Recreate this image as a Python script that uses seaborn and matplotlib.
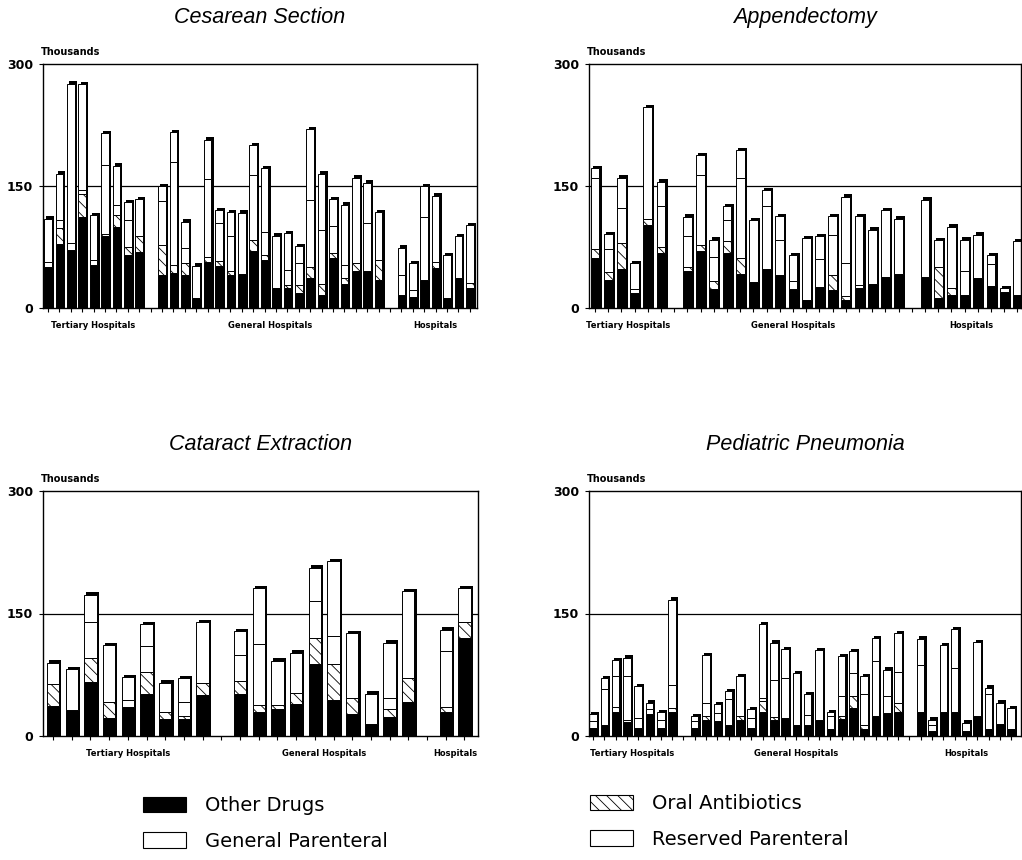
import numpy as np
import pandas as pd
import matplotlib
matplotlib.use('Agg')
import matplotlib.pyplot as plt
import matplotlib.transforms as mtransforms
from matplotlib.patches import Patch
import seaborn as sns

# Datos (miles), grupos: Tertiary / General / Hospitals
# ==============================================================================
group_names = ['Tertiary Hospitals', 'General Hospitals', 'Hospitals']
series_names = ['Other Drugs', 'Oral Antibiotics', 'General Parenteral', 'Reserved Parenteral']

ces_sizes = [9, 20, 7]
ces_other = [51, 79, 71, 112, 53, 89, 100, 65, 69,
             41, 43, 41, 12, 57, 52, 40, 42, 70, 59, 25, 24, 18, 37, 16, 62, 29, 45, 45, 35,
             16, 14, 35, 49, 12, 37, 25]
ces_oral = [0, 19, 0, 28, 0, 2, 14, 10, 20,
            37, 10, 14, 0, 6, 6, 5, 0, 14, 6, 0, 4, 10, 14, 13, 6, 8, 10, 0, 24,
            0, 0, 0, 8, 0, 0, 6]
ces_general = [6, 10, 9, 5, 6, 85, 13, 33, 0,
               53, 127, 19, 0, 95, 46, 43, 0, 79, 29, 0, 19, 27, 82, 67, 33, 16, 0, 59, 0,
               25, 8, 77, 0, 0, 0, 0]
ces_reserved = [53, 57, 196, 130, 55, 39, 48, 22, 45,
                19, 36, 32, 40, 49, 16, 30, 75, 37, 78, 64, 45, 21, 87, 69, 33, 74, 105, 50, 59,
                33, 33, 38, 81, 53, 51, 71]

app_sizes = [6, 17, 8]
app_other = [61, 34, 48, 18, 102, 68,
             46, 70, 23, 68, 42, 32, 48, 40, 23, 10, 26, 22, 10, 25, 30, 38, 42,
             38, 12, 16, 16, 37, 27, 20, 16]
app_oral = [12, 10, 32, 0, 8, 7,
            4, 8, 10, 14, 20, 0, 0, 0, 0, 0, 0, 18, 5, 3, 0, 0, 0,
            0, 38, 8, 0, 0, 0, 0, 0]
app_general = [87, 28, 43, 5, 0, 50,
               38, 86, 30, 26, 98, 0, 77, 44, 10, 0, 34, 50, 40, 0, 0, 0, 0,
               0, 0, 0, 29, 0, 27, 0, 0]
app_reserved = [12, 19, 37, 32, 137, 30,
                24, 24, 21, 17, 34, 76, 20, 29, 32, 76, 28, 23, 82, 85, 66, 82, 68,
                95, 33, 76, 39, 53, 11, 4, 66]

cat_sizes = [9, 10, 2]
cat_other = [37, 32, 66, 22, 36, 51, 21, 21, 50,
             51, 30, 33, 39, 88, 44, 27, 15, 23, 42,
             30, 120]
cat_oral = [27, 0, 30, 20, 0, 27, 9, 4, 15,
            16, 8, 5, 14, 32, 44, 19, 0, 10, 29,
            5, 19]
cat_general = [0, 0, 43, 0, 8, 32, 0, 17, 0,
               32, 75, 0, 0, 45, 34, 0, 0, 13, 0,
               69, 0]
cat_reserved = [26, 50, 34, 69, 28, 27, 35, 29, 74,
                29, 68, 54, 49, 41, 92, 80, 37, 68, 106,
                26, 42]

ped_sizes = [8, 19, 9]
ped_other = [10, 13, 29, 17, 10, 27, 10, 30,
             10, 20, 18, 14, 20, 10, 29, 20, 22, 14, 14, 20, 9, 21, 34, 8, 25, 28, 30,
             30, 6, 30, 29, 6, 24, 9, 15, 8]
ped_oral = [0, 0, 6, 3, 0, 0, 0, 4,
            0, 4, 0, 0, 5, 0, 14, 3, 0, 0, 0, 0, 0, 3, 15, 6, 0, 0, 10,
            0, 0, 0, 0, 0, 0, 0, 0, 0]
ped_general = [8, 45, 38, 53, 12, 6, 10, 28,
               8, 17, 10, 31, 0, 12, 4, 46, 49, 0, 12, 0, 15, 25, 28, 37, 67, 21, 38,
               57, 8, 0, 54, 0, 0, 42, 0, 0]
ped_reserved = [9, 13, 20, 23, 39, 8, 9, 105,
                6, 58, 11, 10, 48, 11, 90, 45, 35, 63, 25, 85, 5, 49, 27, 22, 28, 32, 48,
                32, 6, 81, 48, 10, 91, 8, 26, 26]

# Gráficos
# ==============================================================================
sns.set_theme(style='ticks')
plt.rcParams['font.family'] = ['Liberation Sans', 'DejaVu Sans']
plt.rcParams['text.color'] = 'black'
plt.rcParams['axes.labelcolor'] = 'black'
plt.rcParams['xtick.color'] = 'black'
plt.rcParams['ytick.color'] = 'black'
plt.rcParams['hatch.linewidth'] = 0.6
plt.rcParams['hatch.color'] = 'black'

W, H = 1022, 860
fig = plt.figure(figsize=(W / 100, H / 100), dpi=100)

hatch_oral = '\\\\\\'
bar_w = 0.66


def draw_panel(rect_px, first_px, step_px, title, sizes, other, oral, general, reserved):
    left, top, right, bottom = rect_px
    ax = fig.add_axes([left / W, 1 - bottom / H, (right - left) / W, (bottom - top) / H])

    # posiciones: un hueco entre grupos
    pos, centers, start = [], [], 0
    for n in sizes:
        pos.extend(range(start, start + n))
        centers.append(start + (n - 1) / 2)
        start += n + 1
    nslots = start - 1

    df = pd.DataFrame({'slot': pos, 'other': other, 'oral': oral,
                       'general': general, 'reserved': reserved})
    df['total'] = df[['other', 'oral', 'general', 'reserved']].sum(axis=1)

    # sombra "3D" detrás de cada barra
    shift = 2.2 / step_px
    shadow = df.assign(slot=df['slot'] + shift, total=df['total'] + 3)
    sns.barplot(data=shadow, x='slot', y='total', native_scale=True, orient='x',
                color='black', width=bar_w, errorbar=None, saturation=1,
                linewidth=0, ax=ax)

    base = np.zeros(len(df))
    layers = [('other', 'black', ''), ('oral', 'white', hatch_oral),
              ('general', 'white', ''), ('reserved', 'white', '')]
    for col, fc, hatch in layers:
        sns.barplot(data=df, x='slot', y=col, native_scale=True, orient='x',
                    color=fc, width=bar_w, errorbar=None, saturation=1,
                    edgecolor='black', linewidth=0.7, hatch=hatch,
                    bottom=base, ax=ax)
        base = base + df[col].to_numpy()

    ax.set_xlim((left - first_px) / step_px, (right - first_px) / step_px)
    ax.set_ylim(0, 300)
    ax.axhline(150, color='black', lw=0.9, zorder=0)
    ax.set_yticks([0, 150, 300])
    ax.set_yticklabels(['0', '150', '300'], fontsize=9, fontweight='bold',
                       family='DejaVu Sans')
    ax.set_xticks(range(nslots))
    ax.set_xticklabels([])
    ax.tick_params(length=3, width=0.8, color='black', pad=4)
    ax.set_xlabel('')
    ax.set_ylabel('')
    for s in ax.spines.values():
        s.set_linewidth(1)
        s.set_color('black')

    ax.text(-0.005, 1.05, 'Thousands', transform=ax.transAxes, fontsize=7,
            fontweight='bold', ha='left', va='center', family='DejaVu Sans')
    ax.text(0.5, 1.19, title, transform=ax.transAxes, fontsize=15.5,
            style='italic', ha='center', va='center')
    trans = mtransforms.blended_transform_factory(ax.transData, ax.transAxes)
    for c, name in zip(centers, group_names):
        ax.text(c, -0.07, name, transform=trans, fontsize=6, fontweight='bold',
                ha='center', va='center', family='DejaVu Sans')
    return ax


draw_panel((43, 64, 477, 308), 48, 11.4, 'Cesarean Section',
           ces_sizes, ces_other, ces_oral, ces_general, ces_reserved)
draw_panel((589, 64, 1021, 308), 595, 13.2, 'Appendectomy',
           app_sizes, app_other, app_oral, app_general, app_reserved)
draw_panel((43, 491, 478, 736), 53, 18.7, 'Cataract Extraction',
           cat_sizes, cat_other, cat_oral, cat_general, cat_reserved)
draw_panel((589, 491, 1021, 736), 593, 11.3, 'Pediatric Pneumonia',
           ped_sizes, ped_other, ped_oral, ped_general, ped_reserved)

# Leyenda
# ==============================================================================
leg_kw = dict(loc='upper left', frameon=False, borderpad=0, borderaxespad=0,
              handlelength=2.2, handleheight=0.85, handletextpad=1.0,
              labelspacing=0.85, labelcolor='black',
              prop={'family': 'DejaVu Sans', 'size': 14})
h_other = Patch(facecolor='black', edgecolor='black', lw=0.8)
h_oral = Patch(facecolor='white', edgecolor='black', lw=0.8, hatch=hatch_oral)
h_gen = Patch(facecolor='white', edgecolor='black', lw=0.8)
h_res = Patch(facecolor='white', edgecolor='black', lw=0.8)
fig.legend([h_other, h_gen], [series_names[0], series_names[2]],
           bbox_to_anchor=(143 / W, 1 - 796 / H), **leg_kw)
fig.legend([h_oral, h_res], [series_names[1], series_names[3]],
           bbox_to_anchor=(590 / W, 1 - 794 / H), **leg_kw)

fig.savefig('out.png', dpi=100)
